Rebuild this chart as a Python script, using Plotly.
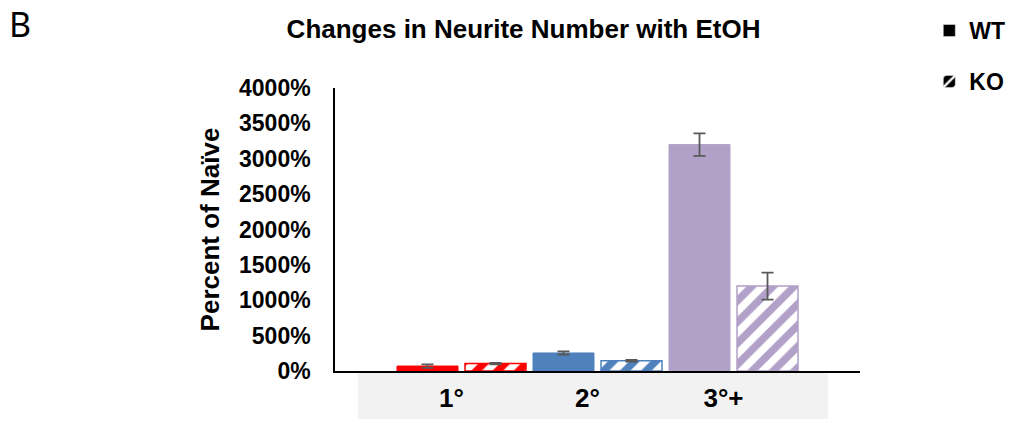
import plotly.graph_objects as go

categories = ["1°", "2°", "3°+"]
wt_values = [70, 255, 3200]
wt_errors = [25, 22, 160]
ko_values = [105, 145, 1200]
ko_errors = [10, 12, 190]
bar_colors = ["#FF0000", "#4F81BD", "#B1A0C7"]
y_ticks = [0, 500, 1000, 1500, 2000, 2500, 3000, 3500, 4000]
y_tick_text = [f"{v}%" for v in y_ticks]

FONT = "Liberation Sans, Arial, sans-serif"
ERR_COLOR = "#595959"

fig = go.Figure()

fig.add_trace(go.Bar(
    x=categories, y=wt_values, name="WT", showlegend=False,
    offsetgroup="wt",
    marker=dict(color=bar_colors, line=dict(color=bar_colors, width=1)),
    error_y=dict(type="data", array=wt_errors, color=ERR_COLOR, thickness=1.8, width=6),
))
fig.add_trace(go.Bar(
    x=categories, y=ko_values, name="KO", showlegend=False,
    offsetgroup="ko",
    marker=dict(color="white", line=dict(color=bar_colors, width=1.5),
                pattern=dict(shape="/", fgcolor=bar_colors, bgcolor="white",
                             size=15, solidity=0.5, fillmode="replace", fgopacity=1)),
    error_y=dict(type="data", array=ko_errors, color=ERR_COLOR, thickness=1.8, width=6),
))

# legend-only traces (generic black swatches as in the reference)
fig.add_trace(go.Bar(
    x=[categories[0]], y=[None], name="WT", offsetgroup="wt", legend="legend",
    marker=dict(color="black"), showlegend=True,
))
fig.add_trace(go.Bar(
    x=[categories[0]], y=[None], name="KO", offsetgroup="ko", legend="legend2",
    marker=dict(color="black", pattern=dict(shape="/", fgcolor="white", bgcolor="black",
                                            size=12, solidity=0.3, fillmode="replace")),
    showlegend=True,
))

fig.update_layout(
    width=1015, height=423,
    margin=dict(l=335, r=155, t=88, b=52, autoexpand=False),
    paper_bgcolor="white", plot_bgcolor="white",
    barmode="group", bargap=0.0, bargroupgap=0.103,
    font=dict(family=FONT, color="black"),
    title=dict(text="Changes in Neurite Number with EtOH", x=0.5158, xanchor="center",
               xref="container", y=0.931, yref="container", yanchor="middle",
               font=dict(family=FONT, size=26, weight="bold", color="black")),
    legend=dict(x=1.132, xanchor="left", y=1.203, yanchor="middle",
                font=dict(family=FONT, size=23, weight="bold"), bgcolor="rgba(0,0,0,0)"),
    legend2=dict(x=1.132, xanchor="left", y=1.023, yanchor="middle",
                 font=dict(family=FONT, size=23, weight="bold"), bgcolor="rgba(0,0,0,0)"),
    shapes=[dict(type="rect", xref="paper", yref="paper", x0=0.0438, x1=0.939,
                 y0=-0.170, y1=0, fillcolor="#F2F2F2", line=dict(width=0), layer="below")],
    annotations=[dict(text="B", xref="paper", yref="paper", x=-0.625, y=1.226,
                      xanchor="left", yanchor="middle", showarrow=False,
                      font=dict(family="Noto Sans, Liberation Sans, sans-serif", size=34, color="black"))],
)

fig.update_xaxes(
    range=[-0.93, 2.93], showline=True, linecolor="black", linewidth=2,
    ticks="", showgrid=False, zeroline=False,
    tickfont=dict(family=FONT, size=26, weight="bold", color="black"),
    ticklabelshift=-10, ticklabelstandoff=3,
)
fig.update_yaxes(
    range=[0, 4000], tickvals=y_ticks, ticktext=y_tick_text, showline=True,
    linecolor="black", linewidth=1.5, ticks="", showgrid=False, zeroline=False,
    tickfont=dict(family=FONT, size=23, weight="bold", color="black"),
    ticklabelstandoff=18,
    title=dict(text="Percent of Naïve", standoff=12,
               font=dict(family=FONT, size=26, weight="bold", color="black")),
)

fig.write_html("out.html", config={"displayModeBar": False},
               post_script="document.body.style.margin='0';")
